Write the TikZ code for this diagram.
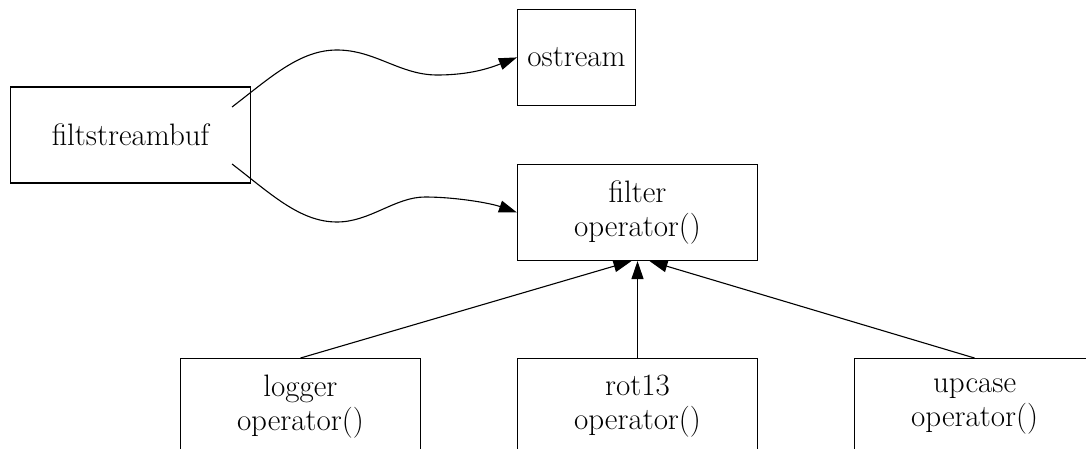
\documentclass[tikz,border=0pt]{standalone}
\usepackage{fontspec}
\usetikzlibrary{calc,arrows.meta}
\usetikzlibrary{positioning}
\begin{document}
\begin{tikzpicture}[x=0.5pt,y=-0.5pt,
    cls/.style={draw,line width=0.55pt,minimum width=120pt,minimum height=48pt,
      inner sep=0pt,align=center,font=\fontsize{15.5}{17}\selectfont},
    tri/.style={line width=0.55pt,-{Triangle[length=9pt,width=6pt]}}]
 \useasboundingbox (0,0) rectangle (1086,449);
 \clip (0,0) rectangle (1086,449);
 \node[cls] (FSB) at (130.5,135) {filtstreambuf};
 \node[cls] (FLT) at (637.5,212.5) {filter\\operator()};
 \node[cls,minimum width=59pt,above=29pt of FLT.north west,anchor=south west] (OS) {ostream};
 \node[cls,below=48.5pt of FLT] (ROT) {rot13\\operator()};
 \node[cls,left=48pt of ROT] (LOG) {logger\\operator()};
 \node[cls,right=48pt of ROT] (UPC) {upcase\\operator()};
 % wavy edges leave from inside the box
 \coordinate (FSB-1) at ($(FSB.east)+(-19,-28)$);
 \coordinate (FSB-2) at ($(FSB.east)+(-19,29)$);
 \draw[tri] (FSB-1) .. controls (271,77) and (300,50) .. (337,50)
   .. controls (375,50) and (400,75) .. (437,75)
   .. controls (470,75) and (490,68) .. (OS.west);
 \draw[tri] (FSB-2) .. controls (271,194) and (300,222) .. (337,222)
   .. controls (370,222) and (395,197) .. (425,197)
   .. controls (455,197) and (490,203) .. (FLT.west);
 \path[tri] foreach \X/\S in {LOG/-3pt,ROT/0pt,UPC/6pt} {(\X.north) edge ([xshift=\S]FLT.south)};
\end{tikzpicture}
\end{document}
